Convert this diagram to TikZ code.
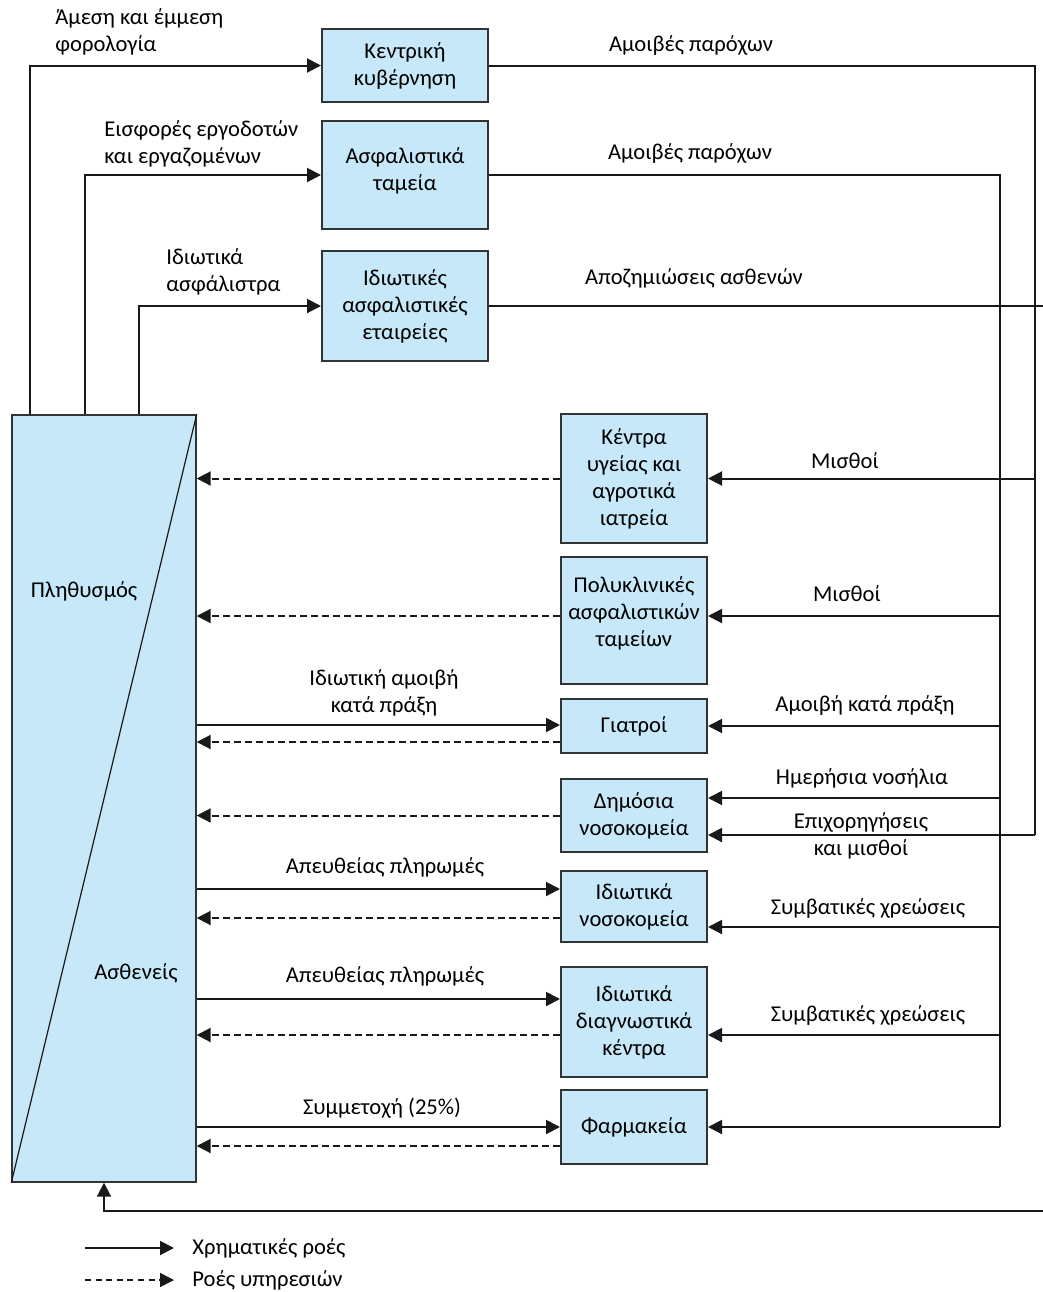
\documentclass[tikz,border=0pt]{standalone}
\usepackage{fontspec}
\setmainfont{Carlito}
\usetikzlibrary{arrows.meta}
\definecolor{boxblue}{RGB}{198,232,248}
\tikzset{
  entity/.style={draw=black!80, line width=1pt, fill=boxblue, align=center, inner sep=1pt},
  wire/.style={line width=1pt, black!90},
  money/.style={wire, -{Triangle[length=7pt,width=7pt]}},
  service/.style={money, dash pattern=on 3.75pt off 1.75pt},
  lbl/.style={align=center, inner sep=0pt}
}
\begin{document}
\begin{tikzpicture}[x=0.5pt,y=-0.5pt,font=\fontsize{11.3}{13.5}\selectfont]
\useasboundingbox (0,0) rectangle (1043,1292);
% payers
\node[entity, minimum width=83pt, minimum height=36.5pt] (gov) at (405,65.5) {Κεντρική\\κυβέρνηση};
\node[entity, minimum width=83pt, minimum height=54pt, text depth=5.5pt] (funds) at (405,175) {Ασφαλιστικά\\ταμεία};
\node[entity, minimum width=83pt, minimum height=55pt] (insco) at (405,306) {Ιδιωτικές\\ασφαλιστικές\\εταιρείες};
% population
\node[entity, line width=0.7pt, minimum width=92pt, minimum height=383.5pt] (pop) at (104,798.5) {};
\draw[wire, line width=0.6pt] (pop.north east) -- (pop.south west);
\node[lbl] (popname) at (84,591) {Πληθυσμός};
\node[lbl] (patname) at (136,973) {Ασθενείς};
% providers
\node[entity, minimum width=73pt, minimum height=64.5pt] (hc) at (634,478.5) {Κέντρα\\υγείας και\\αγροτικά\\ιατρεία};
\node[entity, minimum width=73pt, minimum height=63.5pt, text depth=8.5pt] (poly) at (634,620.5) {Πολυκλινικές\\ασφαλιστικών\\ταμείων};
\node[entity, minimum width=73pt, minimum height=27pt] (doc) at (634,726) {Γιατροί};
\node[entity, minimum width=73pt, minimum height=36.5pt] (pubhosp) at (634,815.5) {Δημόσια\\νοσοκομεία};
\node[entity, minimum width=73pt, minimum height=35.5pt] (privhosp) at (634,906.5) {Ιδιωτικά\\νοσοκομεία};
\node[entity, minimum width=73pt, minimum height=55pt] (diag) at (634,1022) {Ιδιωτικά\\διαγνωστικά\\κέντρα};
\node[entity, minimum width=73pt, minimum height=37pt] (pharm) at (634,1127) {Φαρμακεία};

\coordinate (busA) at (1035,835);
\coordinate (busB) at (1000,1127);
\coordinate (retR) at (1060,1211);

% contributions
\draw[money] (pop.north west) ++(19,0) |- (gov.west);
\draw[money] (pop.north west) ++(74,0) |- (funds.west);
\draw[money] (pop.north west) ++(128,0) |- (insco.west);
\node[lbl, anchor=west, align=left] (ltax) at (55,31.5) {Άμεση και έμμεση\\φορολογία};
\node[lbl, anchor=west, align=left] (lcontrib) at (104,143.5) {Εισφορές εργοδοτών\\και εργαζομένων};
\node[lbl, anchor=west, align=left] (lprem) at (166,272) {Ιδιωτικά\\ασφάλιστρα};

% payments to providers
\draw[wire] (gov.east) -| (busA);
\draw[money] (busA |- hc.east) -- (hc.east);
\draw[money] (busA) -- (busA -| pubhosp.east);
\draw[wire] (funds.east) -| (busB);
\draw[money] (busB |- 0,616) -- (poly.east |- 0,616);
\draw[money] (busB |- doc.east) -- (doc.east);
\draw[money] (busB |- 0,798) -- (pubhosp.east |- 0,798);
\draw[money] (busB |- 0,927) -- (privhosp.east |- 0,927);
\draw[money] (busB |- 0,1035) -- (diag.east |- 0,1035);
\draw[money] (busB) -- (pharm.east);
\draw[money] (insco.east) -| (retR) -| (pop.south);
\node[lbl] (lfee1) at (691,45) {Αμοιβές παρόχων};
\node[lbl] (lfee2) at (690,153) {Αμοιβές παρόχων};
\node[lbl] (lclaims) at (694,278) {Αποζημιώσεις ασθενών};
\node[lbl] (lsal1) at (845,461) {Μισθοί};
\node[lbl] (lsal2) at (847,594) {Μισθοί};
\node[lbl] (lact) at (865,705) {Αμοιβή κατά πράξη};
\node[lbl] (lday) at (862,778) {Ημερήσια νοσήλια};
\node[lbl] (lsubs) at (861,835.5) {Επιχορηγήσεις\\και μισθοί};
\node[lbl] (lcontr1) at (868,908) {Συμβατικές χρεώσεις};
\node[lbl] (lcontr2) at (868,1015) {Συμβατικές χρεώσεις};

% patients and providers
\draw[service] (hc.west) -- (hc.west -| pop.east);
\draw[service] (poly.west |- 0,616) -- (pop.east |- 0,616);
\draw[money] (pop.east |- 0,725) -- (doc.west |- 0,725);
\draw[service] (doc.west |- 0,742) -- (pop.east |- 0,742);
\draw[service] (pubhosp.west) -- (pubhosp.west -| pop.east);
\draw[money] (pop.east |- 0,889) -- (privhosp.west |- 0,889);
\draw[service] (privhosp.west |- 0,918) -- (pop.east |- 0,918);
\draw[money] (pop.east |- 0,999) -- (diag.west |- 0,999);
\draw[service] (diag.west |- 0,1035) -- (pop.east |- 0,1035);
\draw[money] (pop.east |- pharm.west) -- (pharm.west);
\draw[service] (pharm.west |- 0,1146) -- (pop.east |- 0,1146);
\node[lbl] (lprivfee) at (384,693) {Ιδιωτική αμοιβή\\κατά πράξη};
\node[lbl] (ldirect1) at (385,867) {Απευθείας πληρωμές};
\node[lbl] (ldirect2) at (385,976) {Απευθείας πληρωμές};
\node[lbl] (lcopay) at (382,1108) {Συμμετοχή (25\%)};

% legend
\coordinate (legA) at (85,1248);
\coordinate (legB) at (174,1248);
\coordinate (legC) at (85,1280);
\coordinate (legD) at (174,1280);
\draw[money] (legA) -- (legB);
\draw[service, line width=0.8pt, dash pattern=on 3pt off 2.3pt] (legC) -- (legD);
\node[lbl, anchor=west] (legmoney) at (192,1248) {Χρηματικές ροές};
\node[lbl, anchor=west] (legserv) at (192,1280) {Ροές υπηρεσιών};
\end{tikzpicture}
\end{document}
